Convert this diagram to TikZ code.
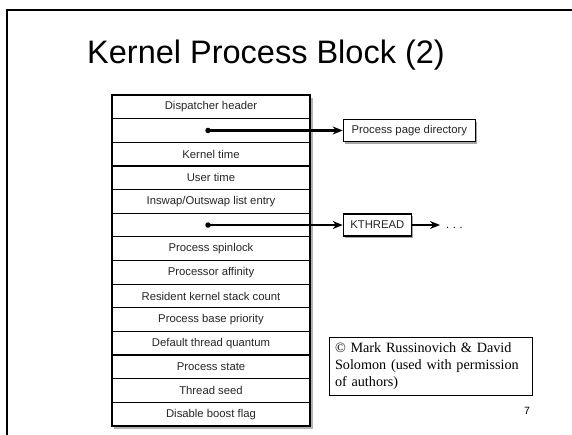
\documentclass[tikz,border=0pt]{standalone}
\usepackage{fontspec}
\setmainfont{Liberation Sans}
\newfontfamily\seriffont{Liberation Serif}
\usetikzlibrary{arrows.meta,shadows}

\begin{document}
\begin{tikzpicture}[x=1pt,y=-1pt,
  row/.style={draw, fill=white, line width=1.2pt, minimum width=198pt, minimum height=23.64pt, inner sep=0pt, font=\fontsize{11.3}{13}\selectfont, text=black!85},
  ptr/.style={line width=2.4pt, -{Stealth[length=10pt,width=8pt]}},
  target/.style={draw, line width=1.2pt, fill=white, inner sep=0pt, minimum height=22pt, font=\fontsize{11.3}{13}\selectfont, text=black!85, drop shadow={shadow xshift=2pt, shadow yshift=-2pt, fill=black!35, opacity=1}},
  dotmark/.style={circle, fill=black, inner sep=0pt, minimum size=5.5pt},
  frame/.style={line width=2.5pt}
]
\useasboundingbox (0,0) rectangle (572,434);
\fill[white] (0,0) rectangle (572,434);

% slide frame
\draw[frame] (7,440) -- (7,10) -- (580,10);

% title
\node[anchor=base, font=\fontsize{32.5}{38}\selectfont] (title) at (266,63) {Kernel Process Block (2)};

% table shadow
\fill[black!30] (114,97.5) rectangle (312.5,428.5);

% table rows
\foreach \t [count=\i] in {Dispatcher header,{},Kernel time,User time,Inswap/Outswap list entry,{},Process spinlock,Processor affinity,Resident kernel stack count,Process base priority,Default thread quantum,Process state,Thread seed,Disable boost flag}
  \node[row] (r\i) at (211,{95+23.643*(\i-0.5)}) {\t};

% pointers
\node[dotmark] (d1) at (208,{95+23.643*1.5}) {};
\node[dotmark] (d2) at (208,{95+23.643*5.5}) {};

\node[target, minimum width=132pt, anchor=west] (ppd) at (342.7,130.5) {Process page directory};
\node[target, minimum width=68pt, anchor=west] (kt) at (342.7,225) {KTHREAD};

\draw[ptr] (d1.center) -- (d1.center -| ppd.west);
\draw[ptr] (d2.center) -- (d2.center -| kt.west);

\coordinate (kend) at (440,225);
\draw[ptr] (kt.east) -- (kend);
\node[anchor=base west, inner sep=0pt, font=\fontsize{11}{13}\selectfont] (more) at (446,228) {.\,\,.\,\,.};

% copyright
\node[draw, line width=1pt, anchor=north west, text width=192pt, inner xsep=5.5pt, inner ysep=4pt, minimum height=57.5pt, align=left, font=\seriffont\fontsize{14.2}{17}\selectfont] (copy) at (329,337) {© Mark Russinovich \& David\\Solomon (used with permission\\of authors)};

% page number
\node[font=\fontsize{10.5}{12}\selectfont] (pg) at (527,411) {7};
\end{tikzpicture}
\end{document}
